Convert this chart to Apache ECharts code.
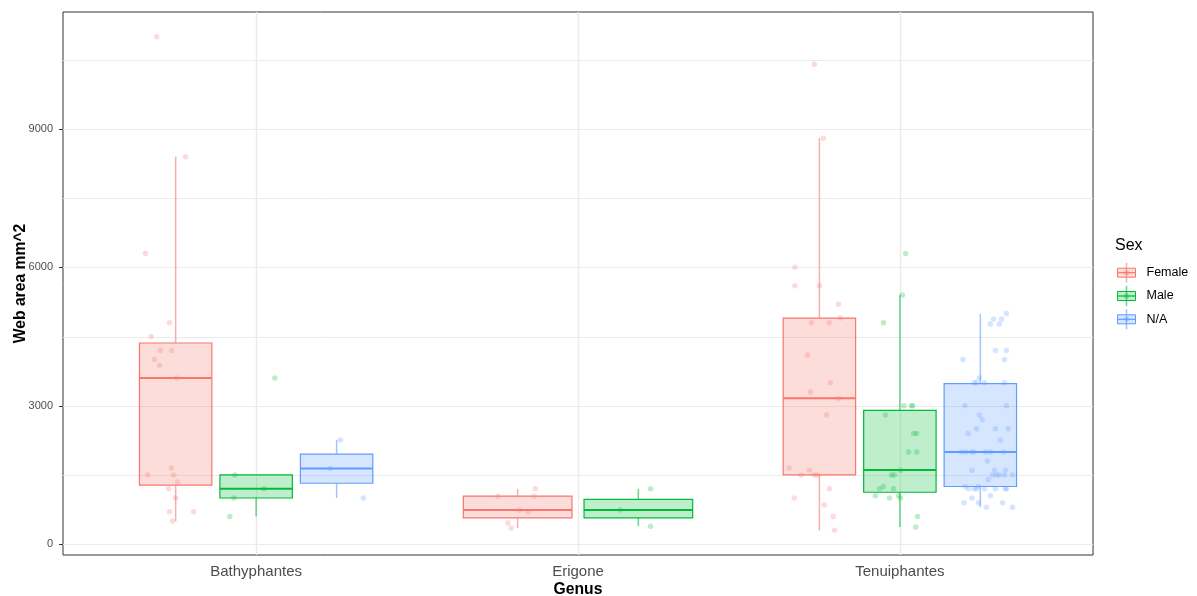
<!DOCTYPE html>
<html><head><meta charset="utf-8">
<script src="https://cdn.jsdelivr.net/npm/echarts@6/dist/echarts.min.js"></script>
<style>html,body{margin:0;padding:0;background:#fff}#chart{width:1197px;height:596px}</style>
</head><body><div id="chart"></div>
<script>
// ---------------- data ----------------
const genera = ['Bathyphantes', 'Erigone', 'Tenuiphantes'];
const sexes = ['Female', 'Male', 'N/A'];
const yTickValues = [0, 3000, 6000, 9000];
const yMinorValues = [1500, 4500, 7500, 10500];
const yRange = [-235, 11535];
const xRange = [0.4, 3.6];

// box statistics per genus: [lower whisker, Q1, median, Q3, upper whisker]; null = group absent
const femaleBoxes = [[500, 1280, 3600, 4360, 8400], [350, 570, 740, 1040, 1200], [300, 1500, 3160, 4900, 8800]];
const maleBoxes   = [[600, 1000, 1200, 1500, 1500], [390, 570, 740, 970, 1200], [370, 1125, 1610, 2900, 5400]];
const naBoxes     = [[1000, 1320, 1640, 1950, 2260], null, [800, 1250, 2000, 3480, 4990]];

// individual observations (web area) and their horizontal jitter (in category units)
const bathyFemaleValues = [11000, 8400, 6300, 4800, 4500, 4200, 4200, 4000, 3880, 3600, 1650, 1500, 1500, 1350, 1200, 1000, 700, 700, 500];
const bathyFemaleJitter = [-0.059, 0.031, -0.094, -0.019, -0.076, -0.047, -0.013, -0.066, -0.050, 0.003, -0.013, -0.087, -0.006, 0.006, -0.022, 0.000, -0.019, 0.056, -0.010];
const bathyMaleValues = [3600, 1500, 1200, 1000, 600];
const bathyMaleJitter = [0.058, -0.066, 0.024, -0.069, -0.082];
const bathyNAValues = [2260, 1640, 1000];
const bathyNAJitter = [0.012, -0.020, 0.083];

const erigoneFemaleValues = [1200, 1040, 1040, 740, 700, 460, 350];
const erigoneFemaleJitter = [0.055, -0.061, 0.051, 0.005, 0.033, -0.030, -0.020];
const erigoneMaleValues = [1200, 740, 390];
const erigoneMaleJitter = [0.038, -0.056, 0.038];

const tenuiFemaleValues = [10400, 8800, 6000, 5600, 5600, 5200, 4900, 4800, 4800, 4100, 3500, 3300, 3150, 2800, 1650, 1600, 1500, 1500, 1500, 1200, 1000, 850, 600, 300];
const tenuiFemaleJitter = [-0.016, 0.012, -0.076, -0.076, 0.000, 0.059, 0.065, -0.025, 0.031, -0.037, 0.034, -0.028, 0.059, 0.022, -0.094, -0.031, -0.057, -0.016, -0.006, 0.031, -0.078, 0.015, 0.043, 0.047];
const tenuiMaleValues = [6300, 5400, 4800, 3000, 3000, 3000, 2800, 2400, 2400, 2000, 2000, 1600, 1500, 1500, 1250, 1200, 1200, 1050, 1000, 1050, 1000, 600, 370];
const tenuiMaleJitter = [0.018, 0.008, -0.051, 0.012, 0.036, 0.040, -0.045, 0.043, 0.052, 0.027, 0.052, 0.002, -0.026, -0.017, -0.051, -0.063, -0.020, -0.076, -0.032, -0.004, 0.002, 0.055, 0.049];
const tenuiNAValues = [5000, 4880, 4880, 4770, 4770, 4200, 4200, 4000, 4000, 3600, 3500, 3500, 3500, 3500, 3000, 3000, 2800, 2700, 2500, 2500, 2500, 2400, 2250, 2000, 2000, 2000, 2000, 2000, 2000, 2000, 1800, 1600, 1600, 1600, 1500, 1500, 1500, 1500, 1500, 1400, 1250, 1250, 1200, 1200, 1200, 1200, 1200, 1200, 1200, 1050, 1000, 900, 900, 900, 800, 800];
const tenuiNAJitter = [0.081, 0.041, 0.066, 0.031, 0.059, 0.047, 0.081, -0.054, 0.075, -0.003, -0.019, -0.012, 0.013, 0.075, -0.048, 0.081, -0.003, 0.006, -0.012, 0.047, 0.087, -0.038, 0.062, -0.058, -0.045, -0.027, -0.020, 0.016, 0.031, 0.072, 0.022, -0.026, 0.044, 0.078, 0.038, 0.050, 0.059, 0.075, 0.100, 0.025, -0.047, -0.006, -0.037, -0.019, -0.012, 0.013, 0.047, 0.078, 0.081, 0.031, -0.026, -0.051, -0.006, 0.069, 0.019, 0.100];

// ---------------- styling ----------------
const colors = ['#F8766D', '#00BA38', '#619CFF'];
const rgb = [[248, 118, 109], [0, 186, 56], [97, 156, 255]];
const rgba = (i, a) => 'rgba(' + rgb[i].join(',') + ',' + a + ')';
const FONT = '"Liberation Sans", Arial, Helvetica, sans-serif';

const boxesBySex = [femaleBoxes, maleBoxes, naBoxes];
const pointsBySex = [
  [[bathyFemaleValues, bathyFemaleJitter], [erigoneFemaleValues, erigoneFemaleJitter], [tenuiFemaleValues, tenuiFemaleJitter]],
  [[bathyMaleValues, bathyMaleJitter], [erigoneMaleValues, erigoneMaleJitter], [tenuiMaleValues, tenuiMaleJitter]],
  [[bathyNAValues, bathyNAJitter], null, [tenuiNAValues, tenuiNAJitter]]
];

// dodge layout (ggplot-like: total width 0.75, box = 0.9 of slot)
function dodge(g, s) {
  const present = [];
  for (let k = 0; k < sexes.length; k++) if (boxesBySex[k][g]) present.push(k);
  const n = present.length, slot = 0.75 / n, idx = present.indexOf(s);
  return { center: (g + 1) - 0.375 + slot * (idx + 0.5), width: slot * 0.9 };
}

const series = [];

// grid lines drawn through the axis scales
const gridData = [];
yTickValues.forEach(v => gridData.push([0, v]));
yMinorValues.forEach(v => gridData.push([1, v]));
genera.forEach((_, i) => gridData.push([2, i + 1]));
series.push({
  type: 'custom', z: 1, silent: true, animation: false,
  data: gridData,
  renderItem: function (params, api) {
    const cs = params.coordSys, kind = api.value(0), v = api.value(1);
    if (kind === 2) {
      const x = Math.round(api.coord([v, 0])[0]) + 0.5;
      return { type: 'line', shape: { x1: x, y1: cs.y, x2: x, y2: cs.y + cs.height }, style: { stroke: '#EBEBEB', lineWidth: 1.4 } };
    }
    const y = Math.round(api.coord([1, v])[1]) + 0.5;
    return { type: 'line', shape: { x1: cs.x, y1: y, x2: cs.x + cs.width, y2: y },
      style: { stroke: '#EBEBEB', lineWidth: kind === 0 ? 1.2 : 1 } };
  }
});

// boxes
sexes.forEach((sex, s) => {
  const data = [];
  boxesBySex[s].forEach((b, g) => {
    if (!b) return;
    const d = dodge(g, s);
    data.push([d.center, d.width].concat(b));
  });
  series.push({
    type: 'custom', name: sex, z: 2, silent: true, animation: false,
    encode: { x: 0, y: [2, 3, 4, 5, 6] },
    data: data,
    renderItem: function (params, api) {
      const x = api.value(0), hw = api.value(1) / 2;
      const lo = api.value(2), q1 = api.value(3), med = api.value(4), q3 = api.value(5), hi = api.value(6);
      const tl = api.coord([x - hw, q3]), br = api.coord([x + hw, q1]);
      const cHi = api.coord([x, hi]), cQ3 = api.coord([x, q3]), cQ1 = api.coord([x, q1]), cLo = api.coord([x, lo]);
      const mL = api.coord([x - hw, med]), mR = api.coord([x + hw, med]);
      return {
        type: 'group', children: [
          { type: 'line', shape: { x1: cQ3[0], y1: cQ3[1], x2: cHi[0], y2: cHi[1] }, style: { stroke: rgba(s, 0.6), lineWidth: 1.5 } },
          { type: 'line', shape: { x1: cQ1[0], y1: cQ1[1], x2: cLo[0], y2: cLo[1] }, style: { stroke: rgba(s, 0.6), lineWidth: 1.5 } },
          { type: 'rect', shape: { x: tl[0], y: tl[1], width: br[0] - tl[0], height: br[1] - tl[1] },
            style: { fill: rgba(s, 0.25), stroke: colors[s], lineWidth: 1.2 } },
          { type: 'line', shape: { x1: mL[0], y1: mL[1], x2: mR[0], y2: mR[1] }, style: { stroke: colors[s], lineWidth: 2 } }
        ]
      };
    }
  });
});

// jittered points
sexes.forEach((sex, s) => {
  const data = [];
  pointsBySex[s].forEach((grp, g) => {
    if (!grp) return;
    const d = dodge(g, s);
    grp[0].forEach((v, i) => data.push([d.center + grp[1][i], v]));
  });
  series.push({
    type: 'scatter', name: sex + ' points', z: 3, silent: true, animation: false,
    symbol: 'circle', symbolSize: 5.5,
    itemStyle: { color: rgba(s, 0.33) },
    data: data
  });
});

// legend (ggplot-style box key)
const legendEls = [{ type: 'text', x: 1115, y: 246, style: { text: 'Sex', fontSize: 16, fontFamily: FONT, fill: '#000', verticalAlign: 'middle' } }];
sexes.forEach((sex, s) => {
  const cy = 272.7 + s * 23.3, cx = 1126.5;
  legendEls.push(
    { type: 'line', shape: { x1: cx, y1: cy - 10, x2: cx, y2: cy + 10 }, style: { stroke: rgba(s, 0.6), lineWidth: 1.5 } },
    { type: 'rect', shape: { x: cx - 9, y: cy - 4.5, width: 18, height: 9 }, style: { fill: rgba(s, 0.25), stroke: colors[s], lineWidth: 1 } },
    { type: 'line', shape: { x1: cx - 9, y1: cy, x2: cx + 9, y2: cy }, style: { stroke: colors[s], lineWidth: 1.2 } },
    { type: 'circle', shape: { cx: cx, cy: cy, r: 2.5 }, style: { fill: rgba(s, 0.35) } },
    { type: 'text', x: 1146.5, y: cy, style: { text: sex, fontSize: 12.5, fontFamily: FONT, fill: '#000', verticalAlign: 'middle' } }
  );
});

const chart = echarts.init(document.getElementById('chart'), null, { renderer: 'canvas' });
chart.setOption({
  animation: false,
  backgroundColor: '#ffffff',
  grid: { left: 63, top: 12, width: 1030, height: 543, show: true, borderColor: '#333333', borderWidth: 1,
    backgroundColor: '#ffffff', containLabel: false, outerBoundsMode: 'none' },
  xAxis: {
    type: 'value', min: xRange[0], max: xRange[1],
    name: 'Genus', nameLocation: 'middle', nameGap: 27, nameMoveOverlap: false,
    nameTextStyle: { fontSize: 15.7, fontWeight: 'bold', color: '#000', fontFamily: FONT },
    axisLine: { show: false },
    axisTick: { show: true, length: 3, lineStyle: { color: '#333333' }, customValues: genera.map((_, i) => i + 1) },
    axisLabel: { fontSize: 15, color: '#4D4D4D', fontFamily: FONT, margin: 9,
      customValues: genera.map((_, i) => i + 1), formatter: v => genera[Math.round(v) - 1] },
    splitLine: { show: false }
  },
  yAxis: {
    type: 'value', min: yRange[0], max: yRange[1],
    name: 'Web area mm^2', nameLocation: 'middle', nameGap: 34, nameMoveOverlap: false,
    nameTextStyle: { fontSize: 15.7, fontWeight: 'bold', color: '#000', fontFamily: FONT },
    axisLine: { show: false },
    axisTick: { show: true, length: 4, lineStyle: { color: '#333333' }, customValues: yTickValues },
    axisLabel: { fontSize: 11, color: '#4D4D4D', fontFamily: FONT, margin: 10, customValues: yTickValues,
      formatter: v => String(v) },
    splitLine: { show: false }
  },
  graphic: legendEls,
  series: series
});
</script>
</body></html>
